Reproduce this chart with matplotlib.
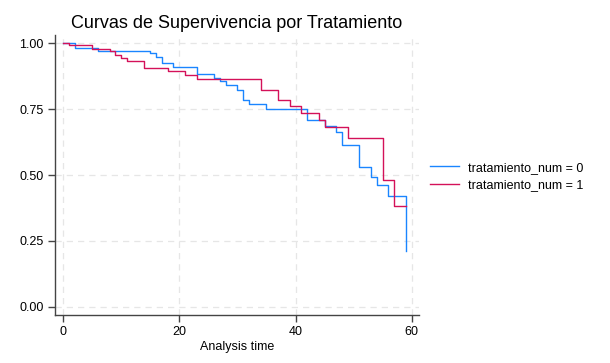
import matplotlib
matplotlib.use("Agg")
import matplotlib.pyplot as plt
from matplotlib.ticker import FormatStrFormatter

plt.rcParams['font.family'] = ['Liberation Sans', 'DejaVu Sans']

# Kaplan-Meier steps
t0 = [0, 2, 6, 15, 16, 17, 19, 23, 26, 27, 28, 30, 31, 32, 35, 42, 45, 47, 48, 51, 53, 54, 56, 59]
s0 = [1.0, 0.981, 0.971, 0.962, 0.949, 0.924, 0.911, 0.885, 0.870, 0.856, 0.840, 0.822,
      0.786, 0.771, 0.751, 0.710, 0.687, 0.665, 0.613, 0.529, 0.494, 0.461, 0.421, 0.210]

t1 = [0, 1, 5, 8, 9, 10, 11, 14, 18, 21, 23, 34, 37, 39, 41, 44, 45, 49, 55, 57, 59]
s1 = [1.0, 0.992, 0.980, 0.969, 0.957, 0.944, 0.931, 0.906, 0.893, 0.878, 0.863, 0.824,
      0.784, 0.761, 0.735, 0.710, 0.681, 0.642, 0.481, 0.383, 0.383]

labels = ["tratamiento_num = 0", "tratamiento_num = 1"]
colors = ["#1a85ff", "#d41159"]

fig = plt.figure(figsize=(6.10, 3.63), dpi=100)
ax = fig.add_axes([0.0902, 0.1322, 0.5967, 0.7714])

ax.step(t0, s0, where='post', color=colors[0], lw=1.0, label=labels[0])
ax.step(t1, s1, where='post', color=colors[1], lw=1.0, label=labels[1])

ax.set_xlim(-1.38, 61.25)
ax.set_ylim(-0.0315, 1.0315)
ax.set_xticks([0, 20, 40, 60])
ax.set_yticks([0, 0.25, 0.5, 0.75, 1.0])
ax.yaxis.set_major_formatter(FormatStrFormatter('%.2f'))
ax.grid(True, color='#e6e6e6', linestyle=(0, (5, 4)), lw=0.9)
ax.set_axisbelow(True)
for side in ['top', 'right']:
    ax.spines[side].set_visible(False)
for side in ['left', 'bottom']:
    ax.spines[side].set_color('#444444')
    ax.spines[side].set_linewidth(1.0)
ax.tick_params(direction='out', length=5, width=1.0, color='#444444', labelsize=9, pad=3)
ax.set_xlabel("Analysis time", fontsize=9, labelpad=2)

fig.text(237 / 610, 1 - 24 / 363, "Curvas de Supervivencia por Tratamiento",
         ha='center', va='center', fontsize=13)

ax.legend(loc='center left', bbox_to_anchor=(1.0, 0.495), frameon=False, fontsize=9,
          handlelength=2.3, handletextpad=0.7, labelspacing=0.45)

fig.savefig("out.png", dpi=100)
